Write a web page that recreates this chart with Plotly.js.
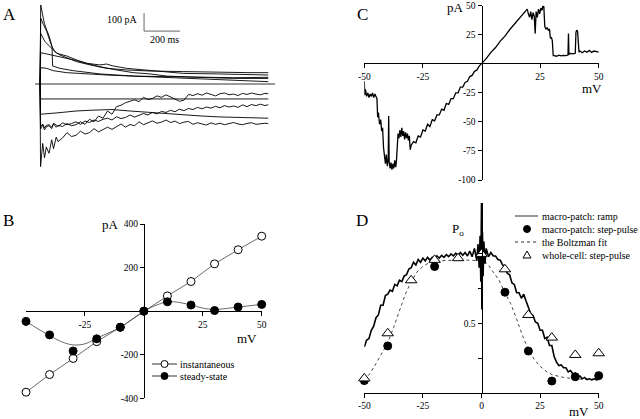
<!DOCTYPE html>
<html>
<head>
<meta charset="utf-8">
<script src="https://cdn.plot.ly/plotly-3.0.1.min.js"></script>
<style>
  html, body { margin: 0; padding: 0; background: #fff; }
  #plot { width: 640px; height: 419px; }
</style>
</head>
<body>
<div id="plot"></div>
<script>
'use strict'

// panel A: current traces (ms, pA)

const tN = [0, 3, 15, 25, 35, 50, 65, 75, 90, 100,
  125, 150, 175, 200, 225, 250, 275, 300, 325, 350,
  375, 400, 425, 450, 475, 500, 525, 550, 575, 600,
  625, 650, 675, 700, 725, 750, 775, 800, 825, 850,
  875, 900, 925, 950, 975, 1000, 1025, 1050, 1075, 1100,
  1125, 1150, 1175, 1200, 1225, 1250, 1268]
const iNA = [0, -459, -330, -410, -350, -385, -310, -360, -295, -320,
  -300, -270, -292, -285, -262, -278, -270, -248, -266, -255,
  -240, -252, -236, -222, -240, -225, -232, -210, -226, -215,
  -205, -218, -212, -200, -214, -206, -220, -212, -208, -224,
  -215, -222, -228, -216, -224, -218, -226, -220, -214, -222,
  -226, -219, -215, -224, -220, -218, -220]
const iNB = [0, -250, -228, -255, -238, -232, -248, -222, -240, -230,
  -236, -220, -232, -226, -210, -224, -196, -210, -178, -190,
  -150, -168, -126, -118, -104, -96, -88, -98, -74, -86,
  -80, -66, -74, -60, -70, -84, -96, -90, -58, -64,
  -54, -62, -50, -58, -66, -54, -50, -60, -56, -64,
  -52, -58, -50, -56, -60, -52, -54]
const iNC = [0, -235, -222, -244, -230, -226, -240, -218, -228, -236,
  -216, -226, -220, -210, -224, -206, -214, -200, -208, -196,
  -190, -200, -182, -192, -186, -172, -184, -176, -164, -172,
  -158, -166, -152, -158, -146, -154, -140, -148, -136, -142,
  -130, -138, -128, -134, -124, -132, -120, -128, -122, -130,
  -116, -126, -114, -120, -112, -120, -115]
const tN1 = [0, 3, 1268]
const iN1 = [0, -83, -83]
const tN2 = [0, 3, 100, 200, 300, 400, 500, 600, 700, 800, 900, 1000, 1100, 1200, 1268]
const iN2 = [0, -168, -160, -150, -145, -142, -150, -158, -165, -172, -178, -183, -186, -190, -190]

const tP1 = [0, 4, 13, 24, 37, 52, 67, 83, 111, 148, 204, 278, 370, 481, 611, 796, 981, 1167, 1268]
const iP1 = [0, 439, 393, 337, 300, 263, 207, 180, 161, 148, 124, 106, 87, 78, 72, 69, 65, 63, 63]
const tP2 = [0, 4, 19, 37, 56, 67, 70, 111, 185, 333, 518, 704, 889, 1074, 1268]
const iP2 = [0, 365, 330, 293, 235, 207, 100, 87, 74, 56, 44, 41, 37, 35, 37]
const tP3 = [0, 4, 28, 56, 93, 148, 204, 259, 333, 370, 407, 481, 574, 667, 796, 981, 1167, 1268]
const iP3 = [0, 280, 235, 208, 170, 156, 133, 115, 106, 111, 100, 87, 78, 69, 59, 56, 50, 50]
const tP4 = [0, 4, 37, 93, 148, 204, 259, 333, 426, 518, 611, 704, 889, 1074, 1268]
const iP4 = [0, 174, 167, 155, 143, 130, 115, 96, 78, 63, 56, 44, 37, 31, 31]
const tP5 = [0, 4, 37, 74, 148, 259, 370, 518, 704, 889, 1074, 1185, 1268]
const iP5 = [0, 91, 87, 74, 63, 56, 50, 44, 37, 26, 22, 17, 13]

const tBase = [-28, 1306]
const iBase = [0, 0]
// scale bar: 100 pA by 200 ms
const tBar = [578, 578, 778]
const iBar = [394, 294, 294]

// panel B: I-V (mV, pA)

const vB = [-50, -40, -30, -20, -10, 0, 10, 20, 30, 40, 50]
const iInst = [-372, -291, -217, -140, -74, 0, 70, 136, 217, 282, 344]
const iSteady = [-47, -109, -183, -127, -74, 0, 43, 28, 3, 19, 31]
const vSteadyFit = [-50, -45, -40, -35, -30, -25, -20, -10, 0, 5, 10, 15, 20, 25, 30, 40, 50]
const iSteadyFit = [-47, -81, -112, -140, -155, -150, -124, -74, 0, 26, 43, 40, 28, 14, 8, 19, 31]

// panel C: ramp current (mV, pA)

const vC = [-50, -49.8, -49.5, -49, -48.5, -48, -47.5, -47, -46.5, -46, -45.5, -45, -44.6,
  -44.3, -44, -43.5, -43, -42.6, -42.2, -41.8, -41.4, -41, -40.6, -40.2, -39.8, -39.6, -39.4, -39, -38.6, -38.2, -37.8, -37.4, -37, -36.6, -36.3,
  -36, -35.6, -35.2, -34.8, -34.4, -34, -33.6, -33.2, -32.8, -32.4, -32, -31.6, -31.2, -30.8, -30.4,
  -30, -29, -28, -27, -26, -25, -24, -23, -22, -21, -20, -19, -18, -17, -16, -15, -14, -13, -12, -11, -10, -9, -8, -7, -6, -5, -4, -3, -2, -1,
  0, 2, 4, 6, 8, 10, 12, 14, 16, 18, 19.5,
  20, 20.5, 21, 21.5, 22, 22.5, 22.9, 23.3, 23.8, 24.3, 24.8, 25.3, 25.8, 26.2, 26.6, 27, 27.5, 28, 28.5, 29, 29.4, 29.8, 30.2,
  30.6, 31, 32, 33, 34, 35, 36, 36.9, 37.1, 37.3, 38, 39, 40, 40.3, 40.6, 41, 41.3, 41.6, 42, 43, 44, 45, 46, 47, 48, 49, 50]
const iC = [-15, -27, -22, -28, -25, -29, -26, -28, -25, -29, -26, -28, -30,
  -46, -42, -52, -48, -58, -55, -72, -80, -86, -78, -88, -82, -45, -84, -90, -85, -91, -86, -90, -83, -89, -84,
  -66, -60, -64, -57, -63, -55, -62, -58, -65, -59, -64, -60, -66, -62, -74,
  -70, -67, -68, -62, -63, -57, -58, -52, -54, -48, -49, -44, -44, -39, -40, -34, -35, -30, -30, -25, -25, -20, -20, -16, -15, -11, -10, -6.5, -5.5, -2,
  0, 4.5, 9.8, 14, 19.5, 23.8, 29.3, 33.8, 39, 43.2, 47,
  43, 40, 45, 38, 44, 41, 26, 45, 40, 47, 43, 48, 46, 50, 49, 32, 30, 31, 29, 30, 22, 23, 20,
  7, 7, 6.5, 7.5, 6.8, 7.2, 7, 7.5, 26, 8, 9, 8.5, 9, 27, 29, 28, 12, 10, 11, 9.5, 11, 10, 11.5, 9.8, 11, 10.5, 10]

// panel D: open probability (mV, Po)

const vRamp = [-50, -49, -48, -47, -46, -45, -44, -43, -42, -41,
  -40, -39, -38, -37, -36, -35, -34, -33, -32, -31,
  -30, -29, -28, -27, -26, -25, -24, -23, -22, -21,
  -20, -19, -18, -17, -16, -15, -14, -13, -12, -11,
  -10, -9, -8, -7, -6, -5, -4, -3, -2, -1.5,
  -1, -0.6, -0.3, 0, 0.15, 0.4, 0.7, 1, 1.5, 2,
  3, 4, 5, 6, 7, 8, 9, 10, 11, 12,
  13, 14, 15, 16, 17, 18, 19, 20, 21, 22,
  23, 24, 25, 26, 27, 28, 29, 30, 31, 32,
  33, 34, 35, 36, 37, 38, 39, 40, 41, 42,
  43, 44, 45, 46, 47, 48, 49, 50]
const poRamp = [0.33, 0.38, 0.39, 0.45, 0.48, 0.54, 0.56, 0.63, 0.63, 0.70,
  0.71, 0.74, 0.73, 0.78, 0.77, 0.81, 0.80, 0.84, 0.85, 0.89,
  0.90, 0.94, 0.92, 0.96, 0.94, 0.97, 0.95, 0.975, 0.955, 0.975,
  0.96, 0.985, 0.97, 0.99, 0.975, 0.995, 0.98, 1.0, 0.985, 1.005,
  0.985, 1.01, 0.99, 1.01, 0.985, 1.02, 0.98, 1.04, 0.95, 1.07,
  0.90, 1.13, 0.80, 1.38, 0.60, 1.16, 0.84, 1.09, 0.93, 1.04,
  0.98, 1.01, 0.985, 0.985, 0.96, 0.955, 0.92, 0.91, 0.86, 0.85,
  0.79, 0.78, 0.72, 0.72, 0.68, 0.71, 0.66, 0.62, 0.57, 0.555,
  0.51, 0.50, 0.45, 0.45, 0.39, 0.40, 0.34, 0.34, 0.26, 0.22,
  0.195, 0.20, 0.18, 0.18, 0.15, 0.16, 0.135, 0.14, 0.12, 0.12,
  0.10, 0.11, 0.095, 0.10, 0.093, 0.10, 0.092, 0.10]
const vStep = [-50, -40, -20, 10, 20, 30, 40, 50]
const poStep = [0.087, 0.337, 0.909, 0.724, 0.30, 0.084, 0.115, 0.123]
const vFit = [-50, -47.5, -45, -42.5, -40, -37.5, -35, -32.5, -30, -27.5, -25, -22.5, -20, -15, -10, -5, 0,
  2.5, 5, 7.5, 10, 12.5, 15, 17.5, 20, 22.5, 25, 27.5, 30, 35, 40, 45, 50]
const poFit = [0.09, 0.14, 0.21, 0.28, 0.36, 0.47, 0.59, 0.71, 0.80, 0.87, 0.91, 0.935, 0.95, 0.955, 0.955, 0.955, 0.95,
  0.93, 0.87, 0.81, 0.72, 0.64, 0.53, 0.41, 0.31, 0.24, 0.19, 0.155, 0.13, 0.11, 0.10, 0.095, 0.092]
const vWhole = [-50, -40, -30, -20, -10, 0, 10, 20, 30, 40, 50]
const poWhole = [0.103, 0.428, 0.81, 0.957, 0.969, 1.0, 0.889, 0.56, 0.397, 0.272, 0.284]

// tick labels

const tickC_x = [-50, -25, 25, 50]
const tickC_y = [50, 25, -25, -50, -75, -100]
const tickB_x = [-25, 25, 50]
const tickB_y = [400, 200, -200, -400]
const tickD_x = [-50, -25, 0, 25, 50]
const tickD_y = [0.25, 0.5, 0.75, 1]
const tickD_ytext = [' ', '0.5', ' ', ' ']

const legendB = ['instantaneous', 'steady-state']
const legendD = ['macro-patch: ramp', 'macro-patch: step-pulse', 'the Boltzman fit', 'whole-cell: step-pulse']

///////////////////////////////////////////////////////

const W = 640, H = 419
const px = x => x / W
const py = y => 1 - y / H
const serif = 'Liberation Serif, Times New Roman, serif'
const label = s => String(s)

const line = (x, y, ax, width, color, dash) => ({
  x: x, y: y, xaxis: 'x' + ax, yaxis: 'y' + ax,
  type: 'scatter', mode: 'lines', hoverinfo: 'skip', showlegend: false,
  line: { color: color || '#000', width: width || 1, dash: dash || 'solid' }
})

const dots = (x, y, ax, symbol, fill, size) => ({
  x: x, y: y, xaxis: 'x' + ax, yaxis: 'y' + ax,
  type: 'scatter', mode: 'markers', hoverinfo: 'skip', showlegend: false, cliponaxis: false,
  marker: { symbol: symbol, size: size, color: fill, line: { color: '#000', width: 1 } }
})

const traces = [
  // A (axis suffix '')
  line(tBase, iBase, '', 1.2, '#333'),
  line(tBar, iBar, '', 1, '#666'),
  line(tP1, iP1, '', 0.9),
  line(tP2, iP2, '', 0.9),
  line(tP3, iP3, '', 0.9),
  line(tP4, iP4, '', 0.9),
  line(tP5, iP5, '', 0.9),
  line(tN1, iN1, '', 0.9),
  line(tN2, iN2, '', 0.9),
  line(tN, iNC, '', 0.9),
  line(tN, iNB, '', 0.9),
  line(tN, iNA, '', 0.9),
  // C
  line(vC, iC, '2', 1.3),
  // B
  line(vB, iInst, '3', 0.8, '#444'),
  Object.assign(line(vSteadyFit, iSteadyFit, '3', 0.8, '#444'), { line: { color: '#444', width: 0.8, shape: 'spline' } }),
  dots(vB, iInst, '3', 'circle', '#fff', 8),
  dots(vB, iSteady, '3', 'circle', '#000', 8),
  // D
  line(vFit, poFit, '4', 1, '#444', 'dot'),
  line(vRamp, poRamp, '4', 1.6),
  dots(vStep, poStep, '4', 'circle', '#000', 8),
  dots(vWhole, poWhole, '4', 'triangle-up', '#fff', 10)
]

const axisBase = {
  showgrid: false, zeroline: false, showline: true, linecolor: '#000', linewidth: 1,
  ticks: 'outside', ticklen: 4, tickwidth: 1, tickcolor: '#000',
  tickfont: { family: serif, size: 9.5, color: '#000' }, fixedrange: true
}

const ticks = (vals, text) => ({ tickmode: 'array', tickvals: vals, ticktext: text || vals.map(label) })

const ann = (text, x, y, size, anchor) => ({
  text: text, xref: 'paper', yref: 'paper', x: px(x), y: py(y),
  xanchor: anchor || 'center', yanchor: 'middle', showarrow: false,
  font: { family: serif, size: size, color: '#000' }
})

// legend keys (layout only)
const keyLine = (x0, x1, y, dash) => ({
  type: 'line', xref: 'paper', yref: 'paper', x0: px(x0), x1: px(x1), y0: py(y), y1: py(y),
  line: { color: '#333', width: 1, dash: dash || 'solid' }
})
const keyCircle = (x, y, fill) => ({
  type: 'circle', xref: 'paper', yref: 'paper', xsizemode: 'pixel', ysizemode: 'pixel',
  xanchor: px(x), yanchor: py(y), x0: -3.5, x1: 3.5, y0: -3.5, y1: 3.5,
  fillcolor: fill, line: { color: '#000', width: 1 }
})
const keyTriangle = (x, y) => ({
  type: 'path', xref: 'paper', yref: 'paper', xsizemode: 'pixel', ysizemode: 'pixel',
  xanchor: px(x), yanchor: py(y), path: 'M-4,-3 L4,-3 L0,4 Z',
  fillcolor: '#fff', line: { color: '#000', width: 1 }
})

const layout = {
  width: W, height: H,
  margin: { l: 0, r: 0, t: 0, b: 0 },
  paper_bgcolor: '#fff', plot_bgcolor: 'rgba(0,0,0,0)',
  showlegend: false,
  font: { family: serif, color: '#000' },

  // A: bare traces, no axes
  xaxis: { domain: [px(30), px(280)], range: [-55.6, 1333.3], visible: false, fixedrange: true },
  yaxis: { domain: [py(175), 1], range: [-505.6, 466.7], visible: false, fixedrange: true },

  // C
  xaxis2: Object.assign({}, axisBase, ticks(tickC_x), {
    domain: [px(364.3), px(598.7)], range: [-50, 50], anchor: 'free', position: py(63.3)
  }),
  yaxis2: Object.assign({}, axisBase, ticks(tickC_y), {
    domain: [py(180), py(5.7)], range: [-100, 50], anchor: 'free', position: px(481.5), side: 'left'
  }),

  // B
  xaxis3: Object.assign({}, axisBase, ticks(tickB_x), {
    domain: [px(26), px(261.7)], range: [-50, 50], anchor: 'free', position: py(311.15)
  }),
  yaxis3: Object.assign({}, axisBase, ticks(tickB_y), {
    domain: [py(398.3), py(224)], range: [-400, 400], anchor: 'free', position: px(144), side: 'left'
  }),

  // D
  xaxis4: Object.assign({}, axisBase, ticks(tickD_x), {
    domain: [px(364.3), px(598.7)], range: [-50, 50], anchor: 'y4'
  }),
  yaxis4: Object.assign({}, axisBase, ticks(tickD_y, tickD_ytext), {
    domain: [py(392.7), py(203)], range: [0, 1.3667], anchor: 'free', position: px(481.5), side: 'left'
  }),

  annotations: [
    ann('A', 9, 14, 17), ann('B', 8, 220, 17), ann('C', 362, 14, 17), ann('D', 362, 221, 17),
    ann('100 pA', 140, 20, 10, 'right'), ann('200 ms', 148, 40, 10, 'left'),
    ann('pA', 110, 224, 13), ann('mV', 247, 338, 13),
    ann('pA', 455, 7, 13), ann('mV', 592, 88, 13),
    ann('P<sub>o</sub>', 458, 229, 13), ann('mV', 579, 411, 13),
    ann(legendB[0], 178, 364, 10, 'left'), ann(legendB[1], 178, 376, 10, 'left'),
    ann(legendD[0], 540, 216, 10, 'left'), ann(legendD[1], 540, 229, 10, 'left'),
    ann(legendD[2], 540, 242, 10, 'left'), ann(legendD[3], 540, 255, 10, 'left')
  ],

  shapes: [
    keyLine(152, 177, 364), keyCircle(164.5, 364, '#fff'),
    keyLine(152, 177, 376), keyCircle(164.5, 376, '#000'),
    keyLine(515, 538, 216),
    keyCircle(527, 229, '#000'),
    keyLine(515, 538, 242, 'dot'),
    keyTriangle(527, 255)
  ]
}

Plotly.newPlot('plot', traces, layout, { staticPlot: true, displayModeBar: false })
</script>
</body>
</html>
